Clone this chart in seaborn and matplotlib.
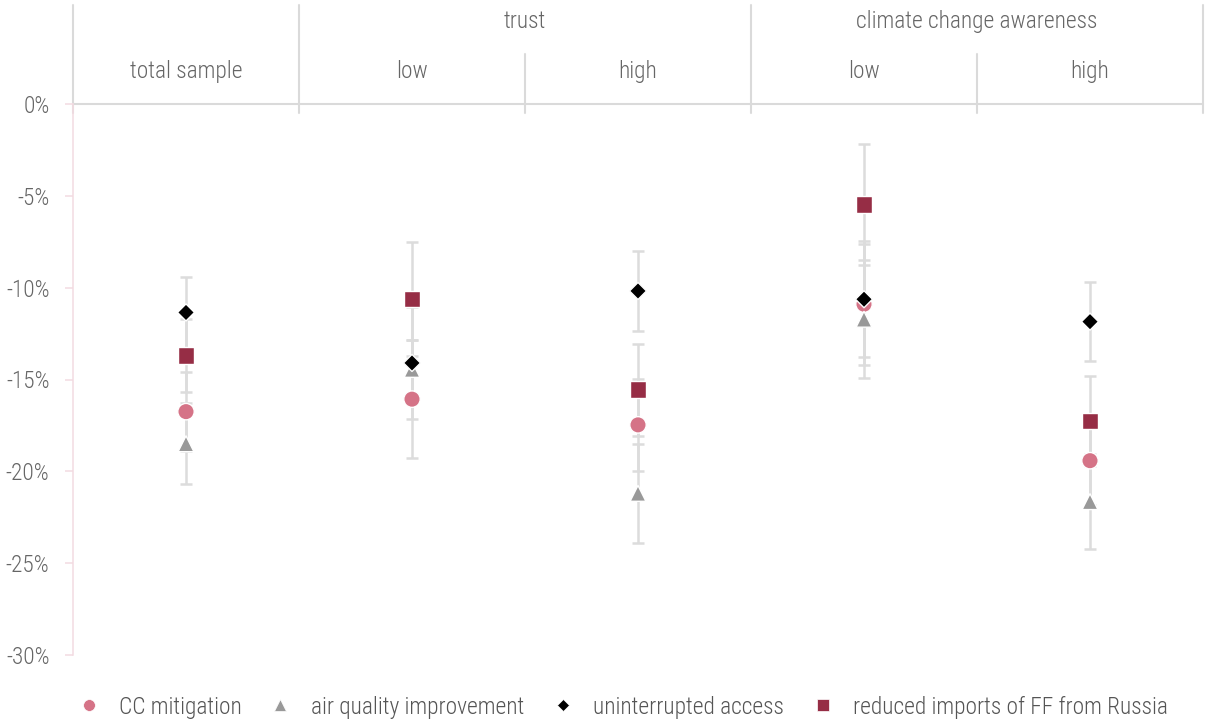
import numpy as np
import pandas as pd
import matplotlib
matplotlib.use("Agg")
import matplotlib.pyplot as plt
import seaborn as sns
from matplotlib.lines import Line2D
from matplotlib.ticker import FuncFormatter, MultipleLocator

# Subgroups along the x axis (internal keys) and their header texts
groups = ["total", "trust_low", "trust_high", "cca_low", "cca_high"]
sub_labels = ["total sample", "low", "high", "low", "high"]
header_groups = ["trust", "climate change awareness"]

series = ["CC mitigation", "air quality improvement",
          "uninterrupted access", "reduced imports of FF from Russia"]

# Estimated effects (%) and half-widths of the confidence intervals
cc_mitigation = [-16.75, -16.07, -17.47, -10.90, -19.42]
cc_mitigation_ci = [2.15, 3.22, 2.50, 3.30, 2.40]
air_quality = [-18.50, -14.45, -21.20, -11.72, -21.65]
air_quality_ci = [2.20, 1.60, 2.70, 3.22, 2.60]
uninterrupted = [-11.35, -14.10, -10.18, -10.63, -11.85]
uninterrupted_ci = [1.92, 3.05, 2.20, 3.17, 2.14]
reduced_imports = [-13.70, -10.63, -15.55, -5.48, -17.26]
reduced_imports_ci = [2.00, 3.10, 2.50, 3.30, 2.45]

values = [cc_mitigation, air_quality, uninterrupted, reduced_imports]
cis = [cc_mitigation_ci, air_quality_ci, uninterrupted_ci, reduced_imports_ci]

df = pd.DataFrame({
    "group": np.tile(groups, len(series)),
    "series": np.repeat(series, len(groups)),
    "value": np.concatenate(values),
    "ci": np.concatenate(cis),
})

palette = dict(zip(series, ["#d57387", "#999999", "#000000", "#962d45"]))
markers = dict(zip(series, ["o", "^", "D", "s"]))
sizes = dict(zip(series, [140, 130, 75, 140]))

sns.set_theme(style="white")
plt.rcParams["font.family"] = ["Roboto Condensed", "Roboto", "DejaVu Sans"]
plt.rcParams["font.weight"] = "light"

W, H = 1208, 724
FS = 16.8
fig = plt.figure(figsize=(W / 100, H / 100), dpi=100)
ax = fig.add_axes([73 / W, 69 / H, 1130 / W, 551 / H])

grid_c = "#dadada"
text_c = "#666666"
spine_c = "#f3dbe1"

# confidence intervals underneath the markers
for s in series:
    d = df[df["series"] == s]
    ax.errorbar(d["group"], d["value"], yerr=d["ci"], fmt="none",
                ecolor="#dcdcdc", elinewidth=1.8, capsize=4.3,
                capthick=1.8, zorder=1)

sns.scatterplot(data=df, x="group", y="value", hue="series", style="series",
                size="series", palette=palette, markers=markers, sizes=sizes,
                edgecolor="white", linewidth=1.0, legend=False, zorder=3,
                ax=ax)

ax.set_xlim(-0.5, len(groups) - 0.5)
ax.set_ylim(-30, 0)
ax.yaxis.set_major_locator(MultipleLocator(5))
ax.yaxis.set_major_formatter(FuncFormatter(lambda v, _: f"{v:.0f}%"))
ax.set_xlabel("")
ax.set_ylabel("")
ax.tick_params(axis="x", bottom=False, labelbottom=False)
ax.tick_params(axis="y", left=True, length=6, width=1.1, color=spine_c,
               labelsize=FS, labelcolor=text_c, pad=11)
for side in ["top", "right", "bottom"]:
    ax.spines[side].set_visible(False)
ax.spines["left"].set_color(spine_c)
ax.spines["left"].set_linewidth(1.1)

# header table above the plotting area
tr = ax.get_xaxis_transform()
ax.axhline(0, color=grid_c, lw=1.5, zorder=0.5, clip_on=False)
y_top, y_mid, y_low = 1.1797, 1.0907, 0.9837
for xb in [-0.5, 0.5, 2.5, 4.5]:
    ax.plot([xb, xb], [y_low, y_top], transform=tr, color=grid_c, lw=1.5,
            clip_on=False, zorder=0.5)
for xb in [1.5, 3.5]:
    ax.plot([xb, xb], [y_low, y_mid], transform=tr, color=grid_c, lw=1.5,
            clip_on=False, zorder=0.5)
for xc, lab in zip([1.5, 3.5], header_groups):
    ax.text(xc, 1.149, lab, transform=tr, ha="center", va="center",
            fontsize=FS, color=text_c)
for xc, lab in enumerate(sub_labels):
    ax.text(xc, 1.059, lab, transform=tr, ha="center", va="center",
            fontsize=FS, color=text_c)

# legend along the bottom
handles = [Line2D([], [], ls="none", marker=markers[s], color=palette[s],
                  markeredgecolor="white", markeredgewidth=0.5,
                  markersize={"o": 8.5, "^": 8, "D": 6, "s": 8.5}[markers[s]])
           for s in series]
fig.legend(handles, series, loc="center left",
           bbox_to_anchor=(77 / W, 1 - 707 / H), ncol=4, frameon=False,
           fontsize=FS, labelcolor="#555555", handlelength=1.0,
           handletextpad=0.81, columnspacing=1.15, borderpad=0,
           borderaxespad=0)

fig.savefig("out.png", dpi=100, facecolor="white")
